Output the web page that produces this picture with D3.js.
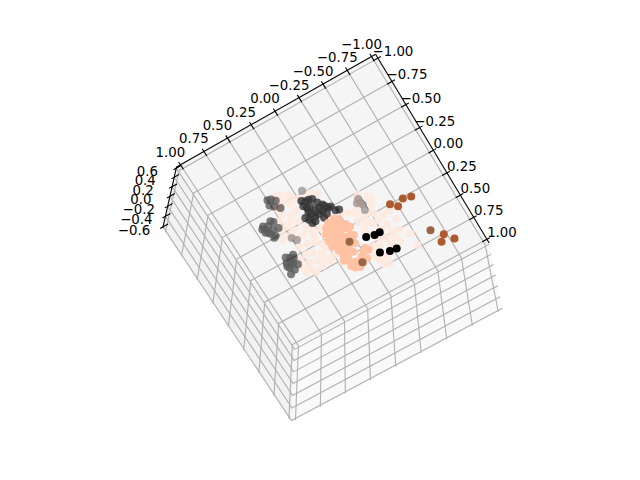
<!DOCTYPE html>
<html><head><meta charset="utf-8"><script src="https://cdn.jsdelivr.net/npm/d3@7"></script>
<style>html,body{margin:0;background:#fff}svg{display:block}text{font-family:"DejaVu Sans";font-size:13.33px;fill:#000}</style></head><body><svg id="c" width="640" height="480"></svg>
<script>
const xTicks=[-1,-.75,-.5,-.25,0,.25,.5,.75,1],yTicks=xTicks,zTicks=[-.6,-.4,-.2,0,.2,.4,.6];
// series: [x,y], one depth per array
const palePeach=[[-.38,.34],[-.34,.27],[-.27,.22],[-.26,.10],[-.22,.04],[-.30,.37],[-.26,.30],[-.21,.42],[-.16,.36],[-.08,.33],[-.09,.45],[-.03,.41],[0,.54],[.05,.35],[.06,.26],[.08,.19],[.15,.37],[.17,.30],[.16,.19],[.25,.37],[.29,.30],[.28,.23],[.34,.37],[.40,.28],[.39,.52],[.43,.44],[.25,.50],[.32,.45],[.37,.23],[.46,.18],[.02,.10],[-.03,-.27],[.03,-.33],[.07,-.24],[.12,-.32],[.12,-.16],[.18,-.21],[.20,-.30],[.25,-.37],[.25,-.44],[.08,-.10],[.28,-.24],[.35,-.35],[.35,-.45],[.40,-.21],[.46,-.28],[.45,-.42],[.54,-.49],[.54,-.28],[.56,-.37],[.67,-.49],[.47,-.10],[.52,-.18],[.57,-.10],[.70,-.18],[.29,-.15],[.62,-.12],
[-.39,.39],[-.27,.15],[-.33,.33],[-.29,.28],[-.28,.43],[-.18,.29],[-.17,.48],[-.11,.41],[0,.29],[-.08,.51],[.01,.47],[.06,.41],[.11,.28],[.09,.14],[.14,.45],[.22,.25],[.23,.43],[.23,.17],[.37,.19],[.35,.30],[.38,.47],[.33,.53],[.41,.36],
[.01,-.24],[.06,-.35],[.09,-.19],[.17,-.27],[.05,-.05],[.28,-.30],[.20,-.14],[.24,-.21],[.37,-.28],[.36,-.18],[.43,-.36],[.45,-.23],[.50,-.35],[.48,-.15],[.60,-.31],[.62,-.19],[.67,-.13]];
const peach=[[-.31,-.20],[-.31,-.15],[-.28,-.22],[-.26,-.10],[-.25,-.16],[-.23,-.21],[-.21,-.25],[-.20,-.10],[-.18,-.15],[-.15,-.20],[-.13,-.09],[-.12,-.15],[-.04,-.17],[-.07,-.11],[-.13,-.27],[-.06,-.24],[.02,-.12],[.08,-.13],[.13,-.15],[.07,-.23],[.02,-.29],[.13,-.21],[.13,-.13],[.10,-.11],[-.01,-.10],
[-.33,-.14],[-.34,-.20],[-.32,-.23],[-.25,-.26],[-.21,-.28],[-.30,-.10],[-.25,-.07],[-.19,-.06],[-.13,-.06],[-.07,-.09],[-.02,-.14],[0,-.19],[-.10,-.23],[-.09,-.18],[-.20,-.18],[-.14,-.24],[.03,-.08],[.04,-.12],[.09,-.17],[.15,-.17],[.11,-.26],[.05,-.31],[.04,-.27],[-.26,-.19],[-.25,-.13],[-.18,-.12],[-.07,-.14]];
const greyCore=[[-.48,0],[-.48,-.03],[-.45,.04],[-.42,-.01],[-.42,-.08],[-.38,-.11],[-.37,-.03],[-.33,-.08],[-.33,-.14],[-.38,.03],[-.32,0],[-.32,.06],[-.28,.05],[-.27,-.06],[-.28,-.18],[-.33,-.16],
[-.50,.03],[-.47,-.06],[-.42,.02],[-.37,-.07],[-.36,-.12],[-.36,.01],[-.32,-.04],[-.35,.08],[-.28,.02],[-.29,-.10],[-.27,-.21]];
const greyMid=[[-.57,.30],[-.54,.27],[-.53,.34],[-.50,.31],[-.46,.27],[-.38,.39],[-.37,.45],[-.36,.49],[-.32,.43],[-.30,.47],[-.26,.44],[-.33,.50],[-.31,.38],[-.03,.40],[-.02,.44],[.01,.49],[.04,.44],[.07,.41],[.06,.49],[.10,.46],[.12,.51],
[-.58,.33],[-.39,.49],[-.40,.41],[-.32,.48],[-.25,.46],[-.37,.51],[-.01,.43],[0,.41],[-.04,.47],[.04,.50],[.03,.46]];
const greyFaint=[[-.01,.38],[-.05,.41],[-.39,.10],[-.07,-.29],[0,-.30],[-.03,-.29],[-.04,-.26],[.05,-.29]];
const black=[[-.06,-.35],[-.04,-.42],[-.04,-.47],[.12,-.38],[.15,-.46],[.16,-.52]];
const brown=[[-.13,-.63],[-.12,-.75],[-.10,-.82],[-.08,-.68],[.34,-.89],[.39,-.84],[.42,-.95]];
const brownDull=[[.25,-.81],[-.01,-.16],[.21,-.16]];
const layers=[[palePeach,.5,"#ffe9de",.88,1],[greyFaint,.3,"#000",.34,.85],[greyMid,0,"#000",.62,.8],[greyCore,-.2,"#000",.78,.8],[peach,-.5,"#ffc2a3",1,1],[brownDull,-.3,"#9a6446",1,1],[brown,-.3,"#ad5a2e",1,1],[black,-.5,"#000",1,1]];
const elev=-69,azim=-149.5,dist=10;
const rad=Math.PI/180,el=elev*rad,az=azim*rad;
const k=1.8294640721620434/Math.sqrt(41),box=[4*k,4*k,3*k];
const R=box.map(d=>d/2);
const sx=d3.scaleLinear([-1,1],[0,box[0]]),sy=d3.scaleLinear([-1,1],[0,box[1]]),sz=d3.scaleLinear([-.6,.6],[0,box[2]]);
const w=[Math.cos(el)*Math.cos(az),Math.cos(el)*Math.sin(az),Math.sin(el)];
const eye=R.map((r,i)=>r+dist*w[i]);
const cross=(a,b)=>[a[1]*b[2]-a[2]*b[1],a[2]*b[0]-a[0]*b[2],a[0]*b[1]-a[1]*b[0]],dot=(a,b)=>a[0]*b[0]+a[1]*b[1]+a[2]*b[2];
let u=cross([0,0,1],w);const nu=Math.hypot(...u);u=u.map(d=>d/nu);const v=cross(w,u);
const px=d3.scaleLinear([-.095,.09],[144.2,513.8]),py=d3.scaleLinear([-.095,.09],[425.7,56.1]);
function proj(x,y,z){const p=[sx(x),sy(y),sz(z)].map((d,i)=>d-eye[i]);const zv=dot(w,p);return [px(dot(u,p)/-zv),py(dot(v,p)/-zv),-zv];}
const svg=d3.select("#c"),line=d3.line();
const X=1+2/48,Z=.6+1.2/48;
const P=(pts)=>line(pts.map(p=>proj(...p)).map(p=>[p[0],p[1]]));
svg.append("path").attr("d",P([[X,-X,-Z],[X,X,-Z],[X,X,Z],[X,-X,Z]])+"Z").attr("fill","#f9f9f9");
svg.append("path").attr("d",P([[-X,X,-Z],[X,X,-Z],[X,X,Z],[-X,X,Z]])+"Z").attr("fill","#f2f2f2");
svg.append("path").attr("d",P([[-X,-X,Z],[X,-X,Z],[X,X,Z],[-X,X,Z]])+"Z").attr("fill","#f5f5f5");
const g=svg.append("g").attr("fill","none").attr("stroke","#b0b0b0").attr("stroke-width",1.1);
xTicks.forEach(t=>g.append("path").attr("d",P([[t,-X,Z],[t,X,Z],[t,X,-Z]])));
yTicks.forEach(t=>g.append("path").attr("d",P([[-X,t,Z],[X,t,Z],[X,t,-Z]])));
zTicks.forEach(t=>g.append("path").attr("d",P([[X,-X,t],[X,X,t],[-X,X,t]])));
const a=svg.append("g").attr("fill","none").attr("stroke","#000").attr("stroke-width",1.1);
a.append("path").attr("d",P([[-X,-X,Z],[X,-X,Z]]));
a.append("path").attr("d",P([[-X,-X,Z],[-X,X,Z]]));
a.append("path").attr("d",P([[-X,X,-Z],[-X,X,Z]]));
const f=d=>d3.format(".2f")(d).replace("-","−"),fz=d=>d3.format(".1f")(d).replace("-","−");
function lab(p,s,dx,dy){svg.append("text").attr("x",p[0]+dx).attr("y",p[1]+dy+5).attr("text-anchor","middle").text(s);}
xTicks.forEach(t=>{a.append("path").attr("d",P([[t,-X-.03,Z],[t,-X+.05,Z]]));lab(proj(t,-X,Z),f(t),15,-7);});
yTicks.forEach(t=>{a.append("path").attr("d",P([[-X-.03,t,Z],[-X+.05,t,Z]]));lab(proj(-X,t,Z),f(t),-10,-13);});
zTicks.forEach(t=>{a.append("path").attr("d",P([[-X,X+.03,t],[-X,X-.05,t]]));lab(proj(-X,X,t),fz(t),-29,3);});
layers.forEach(([arr,z,color,gop,op])=>{
 svg.append("g").attr("opacity",gop).selectAll("circle").data(arr).join("circle")
  .attr("cx",d=>proj(d[0],d[1],z)[0]).attr("cy",d=>proj(d[0],d[1],z)[1]).attr("r",4).attr("fill",color).attr("fill-opacity",op);
});
</script></body></html>
